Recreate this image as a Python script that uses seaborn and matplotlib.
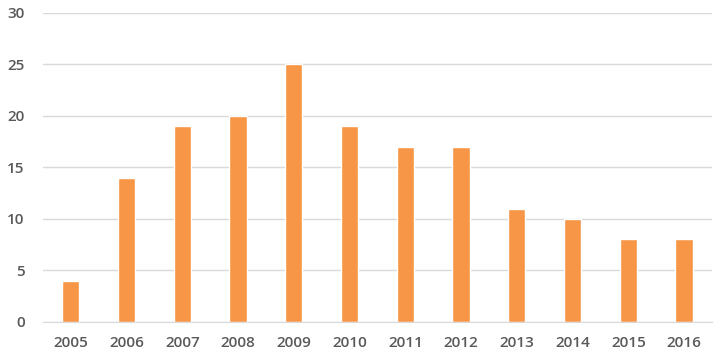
import pandas as pd
import matplotlib.pyplot as plt
import seaborn as sns

years = ["2005", "2006", "2007", "2008", "2009", "2010",
         "2011", "2012", "2013", "2014", "2015", "2016"]
values = [4, 14, 19, 20, 25, 19, 17, 17, 11, 10, 8, 8]

df = pd.DataFrame({"year": years, "value": values})

sns.set_style("white")
plt.rcParams["font.family"] = ["Open Sans", "DejaVu Sans"]

fig, ax = plt.subplots(figsize=(7.28, 3.6), dpi=100)
fig.subplots_adjust(left=0.059, right=0.978, top=0.964, bottom=0.106)

sns.barplot(data=df, x="year", y="value", color="#F79646", saturation=1,
            width=0.31, ax=ax)

ax.set_ylim(0, 30)
ax.set_yticks(range(0, 31, 5))
ax.set_xlim(-0.5, len(years) - 0.5)
ax.yaxis.grid(True, color="#D9D9D9", linewidth=1)
ax.set_axisbelow(True)
for side in ["top", "right", "left"]:
    ax.spines[side].set_visible(False)
ax.spines["bottom"].set_color("#D9D9D9")
ax.set_xlabel("")
ax.set_ylabel("")
ax.tick_params(axis="both", length=0, labelsize=11, labelcolor="#595959")
for lbl in ax.get_xticklabels() + ax.get_yticklabels():
    lbl.set_fontweight("semibold")
ax.tick_params(axis="y", pad=13)
ax.tick_params(axis="x", pad=10)

fig.savefig("out.png", dpi=100)
